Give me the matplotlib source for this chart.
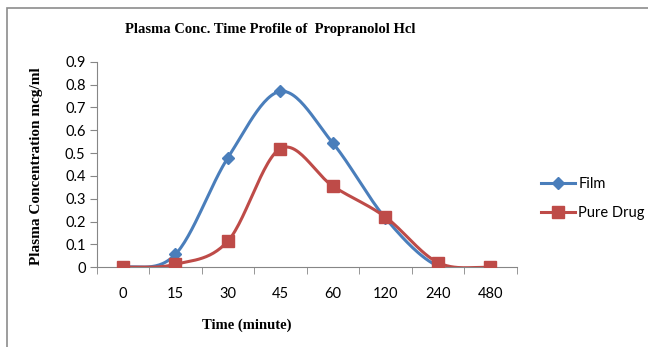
import numpy as np
import matplotlib.pyplot as plt
from matplotlib.patches import Rectangle

times = ['0', '15', '30', '45', '60', '120', '240', '480']
film = [0.0, 0.057, 0.48, 0.77, 0.543, 0.215, 0.005, 0.0]
pure_drug = [0.0, 0.013, 0.115, 0.52, 0.355, 0.22, 0.021, 0.0]


def smooth(y, n=30):
    # Excel-like smoothing: Catmull-Rom spline through category points
    y = np.asarray(y, dtype=float)
    p = np.concatenate([[y[0]], y, [y[-1]]])
    xs, ys = [], []
    for i in range(len(y) - 1):
        t = np.linspace(0, 1, n)
        p0, p1, p2, p3 = p[i], p[i + 1], p[i + 2], p[i + 3]
        seg = 0.5 * ((2 * p1) + (-p0 + p2) * t + (2 * p0 - 5 * p1 + 4 * p2 - p3) * t ** 2
                     + (-p0 + 3 * p1 - 3 * p2 + p3) * t ** 3)
        xs.append(i + t)
        ys.append(seg)
    return np.concatenate(xs), np.concatenate(ys)


blue = '#4A7EBB'
red = '#BE4B48'
grey = '#868686'

fig = plt.figure(figsize=(6.48, 3.47), dpi=100)
fig.patches.append(Rectangle((7 / 648, -0.1), 1.2, 1 - 8 / 347 + 0.1, transform=fig.transFigure,
                             fill=False, edgecolor='#8c8c8c', linewidth=1.2))
ax = fig.add_axes([96.7 / 648, 79.7 / 347, 420 / 648, 205.6 / 347])

x = np.arange(len(times))
sx, sy = smooth(film)
ax.plot(sx, sy, color=blue, lw=2.2, zorder=2)
ax.plot(x, film, ls='none', marker='D', ms=6, color=blue, zorder=3)
sx, sy = smooth(pure_drug)
ax.plot(sx, sy, color=red, lw=2.2, zorder=4)
ax.plot(x, pure_drug, ls='none', marker='s', ms=8, color=red, zorder=5)

ax.set_xlim(-0.5, len(times) - 0.5)
ax.set_ylim(0, 0.9)
ax.set_yticks(np.arange(0, 0.91, 0.1))
ax.set_yticklabels(['0'] + ['%.1f' % v for v in np.arange(0.1, 0.91, 0.1)])
ax.set_xticks(x)
ax.set_xticklabels(times)
ax.set_xticks(np.arange(-0.5, len(times), 1), minor=True)
ax.tick_params(axis='x', which='major', length=0, pad=14)
ax.tick_params(axis='x', which='minor', length=5, color=grey)
ax.tick_params(axis='y', length=5, color=grey, pad=3)
for lab in ax.get_xticklabels() + ax.get_yticklabels():
    lab.set_fontfamily('Lato')
    lab.set_fontsize(10.5)
for s in ['top', 'right']:
    ax.spines[s].set_visible(False)
for s in ['left', 'bottom']:
    ax.spines[s].set_color(grey)

fig.text(270 / 648, 1 - 30 / 347, 'Plasma Conc. Time Profile of  Propranolol Hcl', ha='center', va='center',
         family='Liberation Serif', weight='bold', fontsize=10.5)
fig.text(247 / 648, 1 - 325 / 347, 'Time (minute)', ha='center', va='center',
         family='Liberation Serif', weight='bold', fontsize=10.5)
fig.text(37 / 648, 1 - 166 / 347, 'Plasma Concentration mcg/ml', ha='center', va='center', rotation=90,
         family='Liberation Serif', weight='bold', fontsize=11)

fig.legend(handles=[plt.Line2D([], [], color=blue, lw=2.2, marker='D', ms=6),
                    plt.Line2D([], [], color=red, lw=2.2, marker='s', ms=8)],
           labels=['Film', 'Pure Drug'], loc='center left', bbox_to_anchor=(541 / 648, 1 - 198.5 / 347),
           frameon=False, prop={'family': 'Lato', 'size': 10.5}, handlelength=2.3, handletextpad=0.25,
           labelspacing=1.0, borderpad=0, borderaxespad=0)

fig.savefig('out.png', dpi=100)
